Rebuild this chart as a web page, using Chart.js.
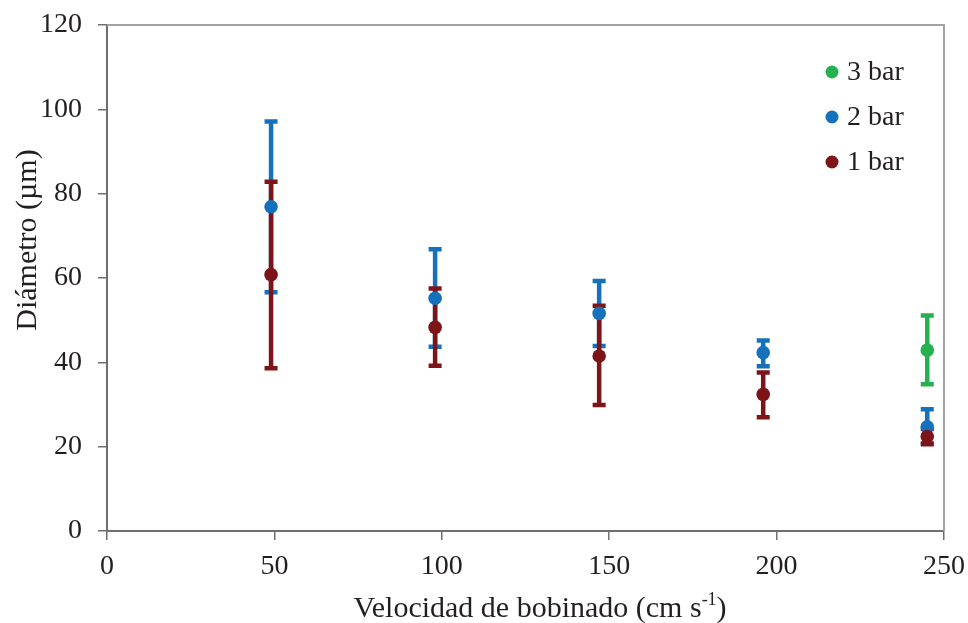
<!DOCTYPE html>
<html>
<head>
<meta charset="utf-8">
<script src="https://cdn.jsdelivr.net/npm/chart.js@4.4.1/dist/chart.umd.min.js"></script>
<style>
html,body{margin:0;padding:0;background:#fff;}
#wrap{width:968px;height:623px;}
</style>
</head>
<body>
<div id="wrap"><canvas id="c" width="968" height="623"></canvas></div>
<script>
// ---- data ----
const seriesLabels = ["3 bar", "2 bar", "1 bar"];
const xVel = [49, 98, 147, 196, 245];
const x3 = [245];
const mean3 = [42.9];
const upper3 = [51.1];
const lower3 = [34.8];
const mean2 = [76.9, 55.2, 51.6, 42.3, 24.7];
const upper2 = [97.1, 66.8, 59.3, 45.2, 28.9];
const lower2 = [56.6, 43.7, 43.9, 39.1, 20.8];
const mean1 = [60.8, 48.3, 41.5, 32.4, 22.4];
const upper1 = [82.8, 57.5, 53.4, 37.6, 24.2];
const lower1 = [38.6, 39.2, 29.9, 27.0, 20.6];
const xTitle = "Velocidad de bobinado (cm s";
const xTitleSup = "-1";
const yTitle = "Diámetro (µm)";

const colors = ["rgb(38,177,80)", "rgb(22,113,189)", "rgb(125,21,24)"];
const FONT = "'Liberation Serif', 'Times New Roman', serif";
const TXT = "#231f20";

function pts(xs, ys, up, lo) {
  return xs.map((x, i) => ({x: x, y: ys[i], hi: up[i], lo: lo[i]}));
}

const errorBars = {
  id: 'errorBars',
  beforeDatasetsDraw(chart) {
    const ctx = chart.ctx, ys = chart.scales.y;
    const metas = chart.getSortedVisibleDatasetMetas().slice().reverse();
    metas.forEach(meta => {
      const ds = chart.data.datasets[meta.index];
      ctx.save();
      ctx.strokeStyle = ds.backgroundColor;
      ctx.lineWidth = 4.5;
      ctx.lineCap = 'butt';
      meta.data.forEach((el, i) => {
        const d = ds.data[i];
        const px = el.x;
        const yh = ys.getPixelForValue(d.hi), yl = ys.getPixelForValue(d.lo);
        ctx.beginPath();
        ctx.moveTo(px, yh); ctx.lineTo(px, yl);
        ctx.moveTo(px - 6.5, yh); ctx.lineTo(px + 6.5, yh);
        ctx.moveTo(px - 6.5, yl); ctx.lineTo(px + 6.5, yl);
        ctx.stroke();
      });
      ctx.restore();
    });
  },
  afterDraw(chart) {
    const ctx = chart.ctx, a = chart.chartArea;
    ctx.save();
    // top & right frame
    ctx.strokeStyle = "#a3a3a3";
    ctx.lineWidth = 2;
    ctx.beginPath();
    ctx.moveTo(a.left, a.top); ctx.lineTo(a.right, a.top); ctx.lineTo(a.right, a.bottom);
    ctx.stroke();
    // legend
    ctx.font = "28px " + FONT;
    ctx.textBaseline = 'middle';
    const ly = [72, 117, 162];
    chart.data.datasets.forEach((ds, i) => {
      ctx.fillStyle = ds.backgroundColor;
      ctx.beginPath(); ctx.arc(832, ly[i], 6.5, 0, Math.PI * 2); ctx.fill();
      ctx.fillStyle = TXT;
      ctx.textAlign = 'left';
      ctx.fillText(ds.label, 847, ly[i] + 1);
    });
    // x title with superscript
    ctx.fillStyle = TXT;
    ctx.textBaseline = 'alphabetic';
    ctx.textAlign = 'left';
    ctx.font = "30px " + FONT;
    const w1 = ctx.measureText(xTitle).width;
    ctx.font = "18px " + FONT;
    const w2 = ctx.measureText(xTitleSup).width;
    ctx.font = "30px " + FONT;
    const w3 = ctx.measureText(")").width;
    const total = w1 + w2 + w3;
    let sx = 540 - total / 2;
    const base = 617;
    ctx.fillText(xTitle, sx, base);
    ctx.font = "18px " + FONT;
    ctx.fillText(xTitleSup, sx + w1, base - 12);
    ctx.font = "30px " + FONT;
    ctx.fillText(")", sx + w1 + w2, base);
    // y title
    ctx.translate(28, 240);
    ctx.rotate(-Math.PI / 2);
    ctx.textAlign = 'center';
    ctx.textBaseline = 'middle';
    ctx.fillText(yTitle, 0, 0);
    ctx.restore();
  }
};

new Chart(document.getElementById('c'), {
  type: 'scatter',
  data: {
    datasets: [
      {label: seriesLabels[0], data: pts(x3, mean3, upper3, lower3), backgroundColor: colors[0], borderColor: colors[0], pointRadius: 6.8, pointBorderWidth: 0, order: 2},
      {label: seriesLabels[1], data: pts(xVel, mean2, upper2, lower2), backgroundColor: colors[1], borderColor: colors[1], pointRadius: 6.8, pointBorderWidth: 0, order: 1},
      {label: seriesLabels[2], data: pts(xVel, mean1, upper1, lower1), backgroundColor: colors[2], borderColor: colors[2], pointRadius: 6.8, pointBorderWidth: 0, order: 0}
    ]
  },
  options: {
    responsive: false,
    animation: false,
    events: [],
    layout: {padding: {left: 0, top: 25, right: 24, bottom: 0}},
    plugins: {legend: {display: false}, tooltip: {enabled: false}},
    scales: {
      x: {
        type: 'linear', min: 0, max: 250,
        ticks: {stepSize: 50, color: TXT, font: {family: FONT, size: 28}, padding: 10, maxRotation: 0},
        grid: {drawOnChartArea: false, color: "#6f6f6f", tickLength: 9, lineWidth: 1.5},
        border: {color: "#6f6f6f", width: 2},
        afterFit(s) { s.height = 92; s.paddingLeft = 0; s.paddingRight = 0; }
      },
      y: {
        type: 'linear', min: 0, max: 120,
        ticks: {stepSize: 20, color: TXT, font: {family: FONT, size: 28}, padding: 16},
        grid: {drawOnChartArea: false, color: "#6f6f6f", tickLength: 9, lineWidth: 1.5},
        border: {color: "#6f6f6f", width: 2},
        afterFit(s) { s.width = 107; s.paddingTop = 0; s.paddingBottom = 0; }
      }
    }
  },
  plugins: [errorBars]
});
</script>
</body>
</html>
